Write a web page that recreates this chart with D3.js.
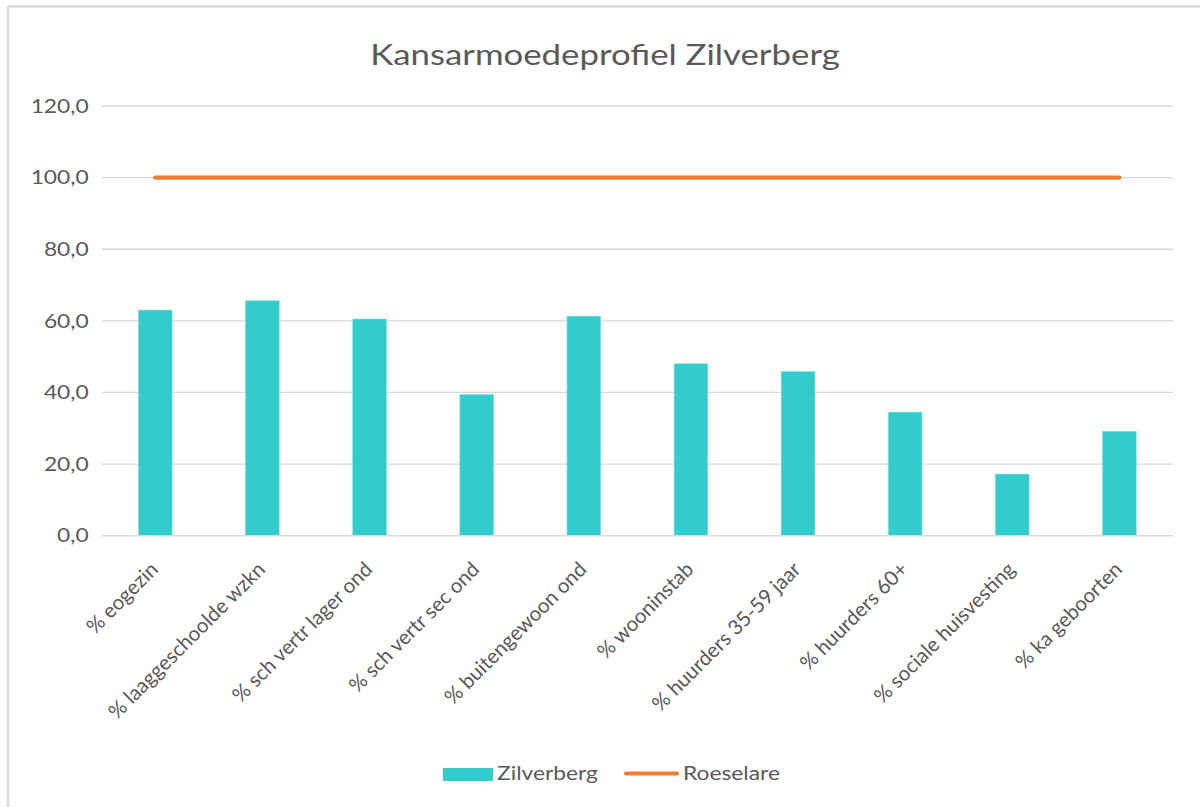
<!DOCTYPE html>
<html>
<head>
<meta charset="utf-8">
<script src="https://cdn.jsdelivr.net/npm/d3@7"></script>
<style>
  html, body { margin: 0; padding: 0; background: #fff; }
  svg { display: block; }
  text { font-family: Lato, "Open Sans", sans-serif; fill: #595959; }
</style>
</head>
<body>
<svg id="chart" width="1200" height="807"></svg>
<script>
const title = "Kansarmoedeprofiel Zilverberg";
const categories = ["% eogezin", "% laaggeschoolde wzkn", "% sch vertr lager ond", "% sch vertr sec ond",
  "% buitengewoon ond", "% wooninstab", "% huurders 35-59 jaar", "% huurders 60+",
  "% sociale huisvesting", "% ka geboorten"];
const zilverberg = [63.0, 65.6, 60.5, 39.4, 61.3, 48.0, 45.8, 34.5, 17.2, 29.1];
const roeselare = [100, 100, 100, 100, 100, 100, 100, 100, 100, 100];
const yTicks = [0, 20, 40, 60, 80, 100, 120];
const seriesNames = ["Zilverberg", "Roeselare"];
const colors = ["#33CCCC", "#ED7D31"];

const svg = d3.select("#chart");
const SX = 1.2; // horizontal text stretch seen in the reference

// chart frame
svg.append("line").attr("x1", 8).attr("x2", 1200).attr("y1", 6.5).attr("y2", 6.5)
  .attr("stroke", "#DADADA").attr("stroke-width", 2.5);
svg.append("line").attr("x1", 8).attr("x2", 8).attr("y1", 6.5).attr("y2", 807)
  .attr("stroke", "#DADADA").attr("stroke-width", 2.5);

const plotLeft = 101.7, plotRight = 1173, plotTop = 106, plotBottom = 535.7;

const x = d3.scaleBand().domain(categories).range([plotLeft, plotRight]).padding(0);
const y = d3.scaleLinear().domain([0, 120]).range([plotBottom, plotTop]);

// title
svg.append("text").attr("transform", `translate(605,65) scale(${SX},1)`).attr("text-anchor", "middle")
  .style("font-size", "29px").text(title);

// gridlines
svg.append("g").selectAll("line").data(yTicks).join("line")
  .attr("x1", plotLeft).attr("x2", plotRight)
  .attr("y1", d => y(d)).attr("y2", d => y(d))
  .attr("stroke", "#D9D9D9").attr("stroke-width", 1.3);

// y axis labels
const fmt = d => d3.format(".1f")(d).replace(".", ",");
svg.append("g").selectAll("text").data(yTicks).join("text")
  .attr("text-anchor", "end")
  .attr("dy", "0.35em")
  .attr("transform", d => `translate(${plotLeft - 13},${y(d)}) scale(${SX},1)`)
  .style("font-size", "19px")
  .text(fmt);

// bars
const barW = x.bandwidth() * 0.313;
svg.append("g").selectAll("rect").data(zilverberg).join("rect")
  .attr("x", (d, i) => x(categories[i]) + x.bandwidth() / 2 - barW / 2)
  .attr("width", barW)
  .attr("y", d => y(d))
  .attr("height", d => y(0) - y(d))
  .attr("fill", colors[0])
  .attr("stroke", "#6FDCDC").attr("stroke-width", 0.6);

// x axis baseline
svg.append("line").attr("x1", plotLeft).attr("x2", plotRight).attr("y1", y(0)).attr("y2", y(0))
  .attr("stroke", "#D9D9D9").attr("stroke-width", 1.3);

// line series
const line = d3.line().x((d, i) => x(categories[i]) + x.bandwidth() / 2).y(d => y(d));
svg.append("path").datum(roeselare).attr("d", line)
  .attr("fill", "none").attr("stroke", colors[1]).attr("stroke-width", 4.2)
  .attr("stroke-linecap", "round");

// category labels
svg.append("g").selectAll("text").data(categories).join("text")
  .attr("text-anchor", "end")
  .attr("transform", d => `translate(${x(d) + x.bandwidth() / 2 + 4},${plotBottom + 35}) rotate(-45)`)
  .style("font-size", "20.5px")
  .text(d => d);

// legend
const lg = svg.append("g");
lg.append("rect").attr("x", 443).attr("y", 768).attr("width", 50).attr("height", 13).attr("fill", colors[0]);
lg.append("text").attr("transform", `translate(497,780) scale(${SX},1)`).style("font-size", "19px").text(seriesNames[0]);
lg.append("line").attr("x1", 626).attr("x2", 677).attr("y1", 773.5).attr("y2", 773.5)
  .attr("stroke", colors[1]).attr("stroke-width", 4.2).attr("stroke-linecap", "round");
lg.append("text").attr("transform", `translate(683,780) scale(${SX},1)`).style("font-size", "19px").text(seriesNames[1]);
</script>
</body>
</html>
